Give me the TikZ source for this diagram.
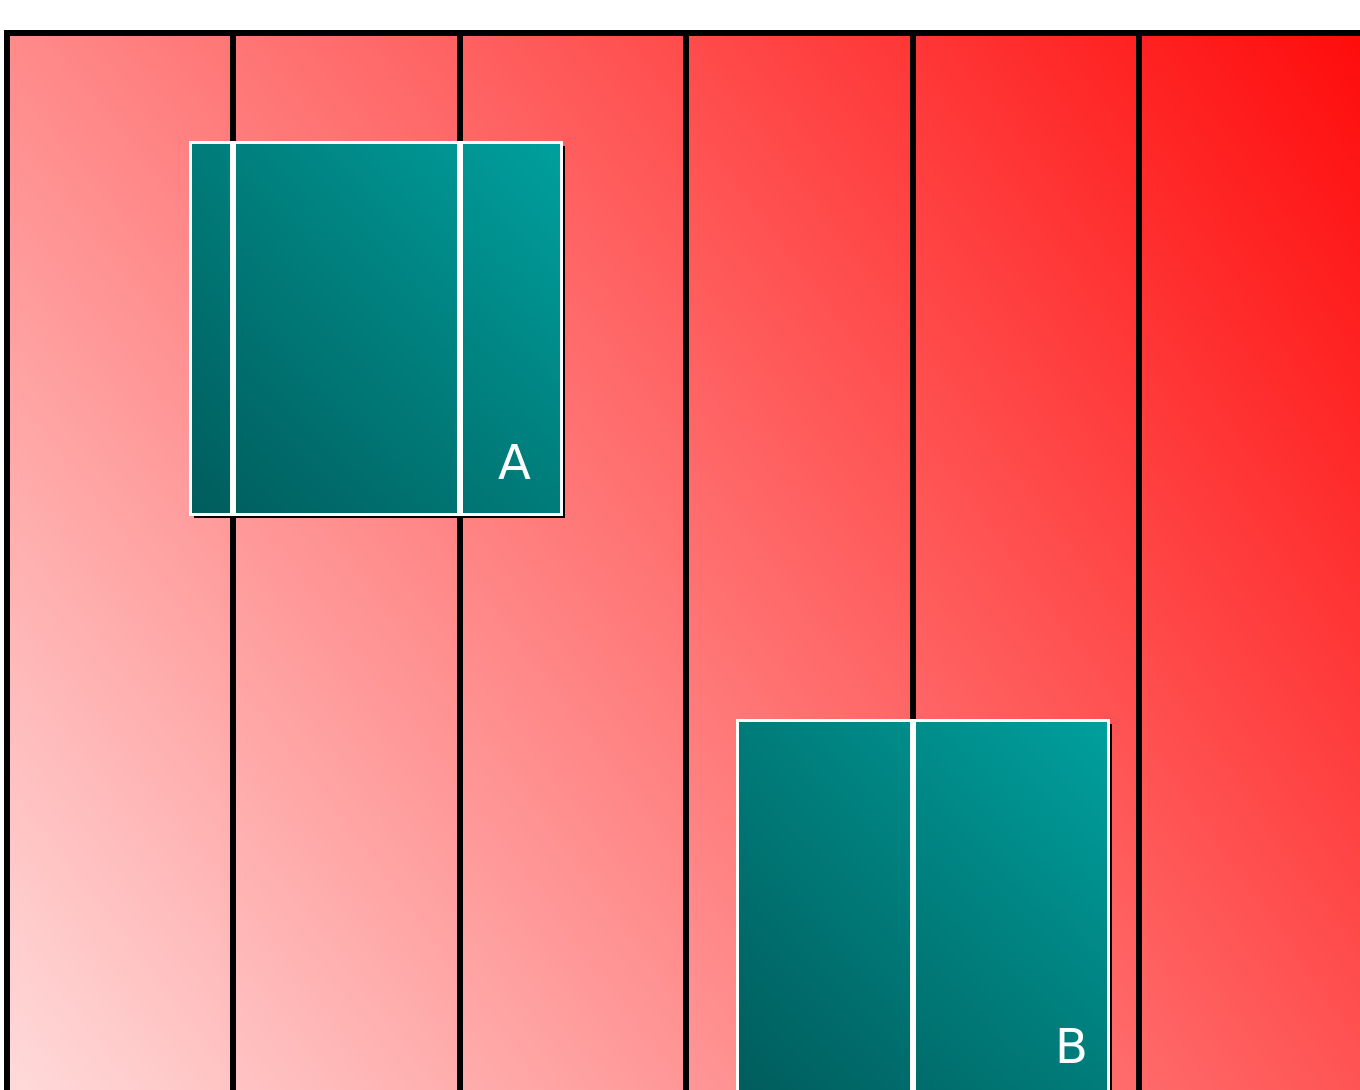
\documentclass[tikz,border=0pt]{standalone}
\usepackage{fontspec}
\newfontfamily\labelfont{DejaVu Sans}
\usetikzlibrary{shadows,shadings}
\definecolor{tealdark}{RGB}{0,92,92}
\definecolor{tealmid}{RGB}{0,124,122}
\definecolor{teallight}{RGB}{0,160,158}
\definecolor{redtl}{RGB}{255,138,138}
\definecolor{redtr}{RGB}{255,12,12}
\definecolor{redbl}{RGB}{255,218,218}
\definecolor{redbr}{RGB}{255,84,84}
\tikzset{
    rail/.style={line width=3pt, black},
    gap/.style={line width=2.75pt, white},
    slab/.style={draw=white, line width=1.75pt,
        minimum width=185.5pt, minimum height=186pt, inner sep=0pt,
        lower left=tealdark, upper right=teallight,
        upper left=tealmid, lower right=tealmid,
        drop shadow={shadow xshift=1.75pt, shadow yshift=-1.75pt, opacity=1, fill=black}},
    tag/.style={text=white, inner sep=0pt, font=\labelfont\fontsize{24pt}{24pt}\selectfont}
}
\newcommand{\redfield}{
    \shade[upper left=redtl, upper right=redtr, lower left=redbl, lower right=redbr]
        (7,33) rectangle (1360,1090);
    \draw[rail] (7,1200) -- (7,33) -- (1400,33);
}
\begin{document}
\begin{tikzpicture}[x=0.5pt,y=-0.5pt]
    \useasboundingbox (0,0) rectangle (1360,1090);
    \redfield
    % vertical rails
    \foreach \i/\x in {1/233,2/460,3/686,4/913,5/1139} {
        \coordinate (t\i) at (\x,33);
        \coordinate (b\i) at (\x,1200);
        \draw[rail] (t\i) -- (b\i);
    }
    % boxes
    \node[slab] (boxA) at (376,328.5) {};
    \node[slab] (boxB) at (923,906.5) {};
    \draw[gap] (boxA.north -| t1) -- (boxA.south -| t1);
    \draw[gap] (boxA.north -| t2) -- (boxA.south -| t2);
    \draw[gap] (boxB.north -| t4) -- (boxB.south -| t4);
    \node[tag] (labA) at (515,462) {A};
    \node[tag] (labB) at (1072,1046) {B};
\end{tikzpicture}
\end{document}
